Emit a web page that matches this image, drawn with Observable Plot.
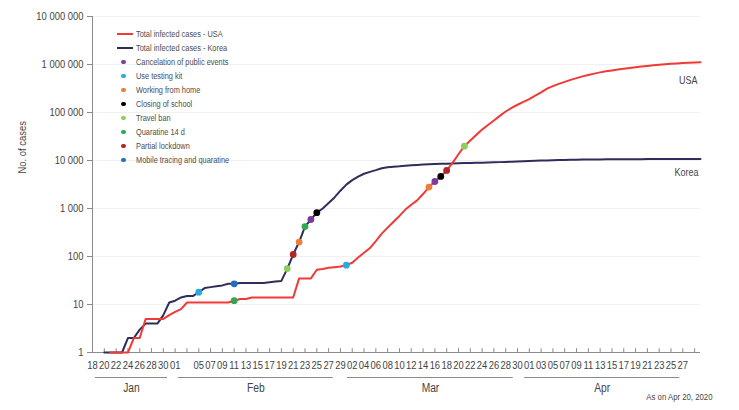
<!DOCTYPE html>
<html><head><meta charset="utf-8">
<script src="https://cdn.jsdelivr.net/npm/d3@7"></script>
<script src="https://cdn.jsdelivr.net/npm/@observablehq/plot@0.6"></script>
<style>
body{margin:0;background:#fff;}
#wrap{position:relative;width:739px;height:410px;font-family:"Liberation Sans",Arial,sans-serif;}
#legend{position:absolute;left:117px;top:27px;font-size:9.6px;color:#4d4d4d;}
.row{height:14px;line-height:14px;display:flex;align-items:center;white-space:nowrap}
.sw{width:16px;height:14px;position:relative;margin-right:3px;flex:none}
.sw .ln{position:absolute;left:0;top:6px;width:16px;height:2px}
.sw .dt{position:absolute;left:4.3px;top:4.8px;width:4.4px;height:4.4px;border-radius:50%}
.tx{display:inline-block;transform:scaleX(0.77);transform-origin:left center}
</style></head><body><div id="wrap"></div>
<script>
// ---------- data ----------
const koreaStart = "2020-01-20";
const koreaCases = [
  1,1,1,1,2,2,3,4,4,4,6,11,
  12,14,15,15,18,22,23,24,25,27,27,28,28,28,28,28,29,30,31,56,110,200,420,590,820,1000,1300,1700,2350,
  3150,3900,4600,5300,5800,6300,6900,7200,7450,7550,7800,7950,8100,8250,8400,8500,8550,8600,8650,8750,8850,8900,8950,9000,9050,9150,9250,9350,9450,9550,9650,
  9750,9850,9950,10050,10150,10250,10300,10350,10400,10450,10480,10510,10540,10560,10590,10610,10630,10650,10660,10680,10690,10700,10710,10720,10730,10740,10750,10760,10770,10780
];
const usaStart = "2020-01-21";
const usaCases = [
  1,1,1,1,2,2,5,5,5,5,6,
  7,8,11,11,11,11,11,11,11,11,12,13,13,14,14,14,14,14,14,14,14,35,35,35,53,55,58,60,62,
  66,74,95,120,150,210,300,400,530,700,950,1200,1480,2000,2800,3650,4650,6200,8900,13500,19900,26000,34000,44000,55000,68000,85000,105000,125000,145000,167000,
  190000,225000,262000,315000,355000,395000,435000,478000,520000,565000,605000,645000,685000,720000,752000,785000,815000,845000,875000,905000,935000,960000,985000,1010000,1035000,1055000,1070000,1085000,1100000,1110000
];
const seriesNames = ["Total infected cases - USA", "Total infected cases - Korea"];
const seriesColors = ["#ef3a36", "#2e2d5c"];
const eventNames = ["Cancelation of public events","Use testing kit","Working from home","Closing of school","Travel ban","Quaratine 14 d","Partial lockdown","Mobile tracing and quaratine"];
const eventColors = ["#7a3d9e","#2aa9e0","#ee7c3a","#000000","#8dcf5b","#2fa84f","#b3262b","#1f6fc0"];
const koreaEventDates = ["2020-02-24","2020-02-05","2020-02-22","2020-02-25","2020-02-20","2020-02-23","2020-02-21","2020-02-11"];
const usaEventDates   = ["2020-03-16","2020-03-01","2020-03-15","2020-03-17","2020-03-21","2020-02-11","2020-03-18",null];
const yTickValues = [1,10,100,1000,10000,100000,1000000,10000000];
const xStart = "2020-01-18", xEnd = "2020-04-30";
const unlabeledTicks = ["2020-02-03","2020-04-29"];
const monthNames = ["Jan","Feb","Mar","Apr"];
const monthLineStart = ["2020-01-18T12:00","2020-02-01T14:00","2020-03-01T05:00","2020-03-31T05:00"];
const monthLineEnd   = ["2020-01-30T17:00","2020-02-27T19:00","2020-03-29T07:00","2020-04-26T12:00"];
const captionText = "As on Apr 20, 2020";
const yLabel = "No. of cases";

// ---------- build ----------
const parse = s => new Date(s + (s.length === 10 ? "T00:00Z" : "Z"));
const series = (start, vals, name) => vals.map((v, i) => ({date: d3.utcDay.offset(parse(start), i), value: v, country: name}));
const korea = series(koreaStart, koreaCases, "Korea");
const usa = series(usaStart, usaCases, "USA");
const lookup = (arr, s) => arr.find(d => +d.date === +parse(s));
const events = [];
eventNames.forEach((n, i) => {
  if (usaEventDates[i]) { const p = lookup(usa, usaEventDates[i]); events.push({...p, event: n, color: eventColors[i]}); }
  if (koreaEventDates[i]) { const p = lookup(korea, koreaEventDates[i]); events.push({...p, event: n, color: eventColors[i]}); }
});
const x0 = parse(xStart), x1 = parse(xEnd);
const ticks = d3.utcDay.range(x0, d3.utcDay.offset(x1, 1), 2);
const labeled = ticks.filter(t => !unlabeledTicks.some(u => +parse(u) === +t));
const months = monthNames.map((m, i) => {
  const a = parse(monthLineStart[i]), b = parse(monthLineEnd[i]);
  return {name: m, a, b, mid: new Date((+a + +b) / 2)};
});
const fmt = d => d3.format(",")(d).replace(/,/g, " ");
const font = '"Liberation Sans",Arial,sans-serif';

const chart = Plot.plot({
  width: 739, height: 410,
  marginLeft: 92, marginRight: 39, marginTop: 16, marginBottom: 58,
  style: {fontFamily: font, fontSize: "11px", color: "#444", background: "#fff", overflow: "visible"},
  x: {type: "utc", domain: [x0, x1]},
  y: {type: "log", domain: [1, 1e7]},
  marks: [
    Plot.ruleY(yTickValues.slice(1), {stroke: "#f0f0f0"}),
    Plot.ruleX([x0], {y1: 1, y2: 1e7, stroke: "#8a8a8a"}),
    Plot.ruleY([1], {stroke: "#8a8a8a"}),
    Plot.ruleX(ticks, {x: d => d, y1: 1, y2: 1.2, stroke: "#8a8a8a"}),
    Plot.axisY({ticks: yTickValues, tickFormat: fmt, tickSize: 5, tickPadding: 4, stroke: "#8a8a8a", fill: "#444", label: null, fontSize: 11.5}),
    Plot.axisX({ticks: labeled, tickFormat: d3.utcFormat("%d"), tickSize: 0, tickPadding: 8, fill: "#444", label: null, fontSize: 11.5}),
    Plot.ruleY(months, {x1: "a", x2: "b", y: () => 1, dy: 25, stroke: "#8a8a8a"}),
    Plot.text(months, {x: "mid", y: () => 1, dy: 35, text: "name", fontSize: 12.5, fill: "#444"}),
    Plot.line(korea, {x: "date", y: "value", stroke: seriesColors[1], strokeWidth: 2}),
    Plot.line(usa, {x: "date", y: "value", stroke: seriesColors[0], strokeWidth: 2}),
    Plot.dot(events, {x: "date", y: "value", fill: "color", r: 3.4}),
    Plot.text([usa[usa.length - 1]], {x: "date", y: "value", text: () => "USA", textAnchor: "end", dx: -3, dy: 18, fontSize: 11, fill: "#444"}),
    Plot.text([korea[korea.length - 1]], {x: "date", y: "value", text: () => "Korea", textAnchor: "end", dx: -2, dy: 14, fontSize: 11, fill: "#444"}),
    Plot.text([captionText], {frameAnchor: "bottom-right", text: d => d, textAnchor: "end", dx: 12, dy: 47, fontSize: 9.5, fill: "#444"}),
    Plot.text([yLabel], {frameAnchor: "left", text: d => d, rotate: -90, dx: -70, dy: -11, fontSize: 11.5, fill: "#444"})
  ]
});
// emulate the condensed typeface of the original
chart.querySelectorAll("text").forEach(t => {
  const tr = t.getAttribute("transform") || "";
  t.setAttribute("transform", (tr + " scale(0.82,1)").trim());
});
const wrap = document.getElementById("wrap");
wrap.appendChild(chart);

// legend (inside plot area, top-left)
const legend = document.createElement("div");
legend.id = "legend";
const items = [
  ...seriesNames.map((n, i) => ({n, c: seriesColors[i], type: "ln"})),
  ...eventNames.map((n, i) => ({n, c: eventColors[i], type: "dt"}))
];
items.forEach(it => {
  const row = document.createElement("div"); row.className = "row";
  const sw = document.createElement("span"); sw.className = "sw";
  const mk = document.createElement("span"); mk.className = it.type; mk.style.background = it.c;
  sw.appendChild(mk); row.appendChild(sw);
  const tx = document.createElement("span"); tx.className = "tx"; tx.textContent = it.n; row.appendChild(tx);
  legend.appendChild(row);
});
wrap.appendChild(legend);
</script></body></html>
